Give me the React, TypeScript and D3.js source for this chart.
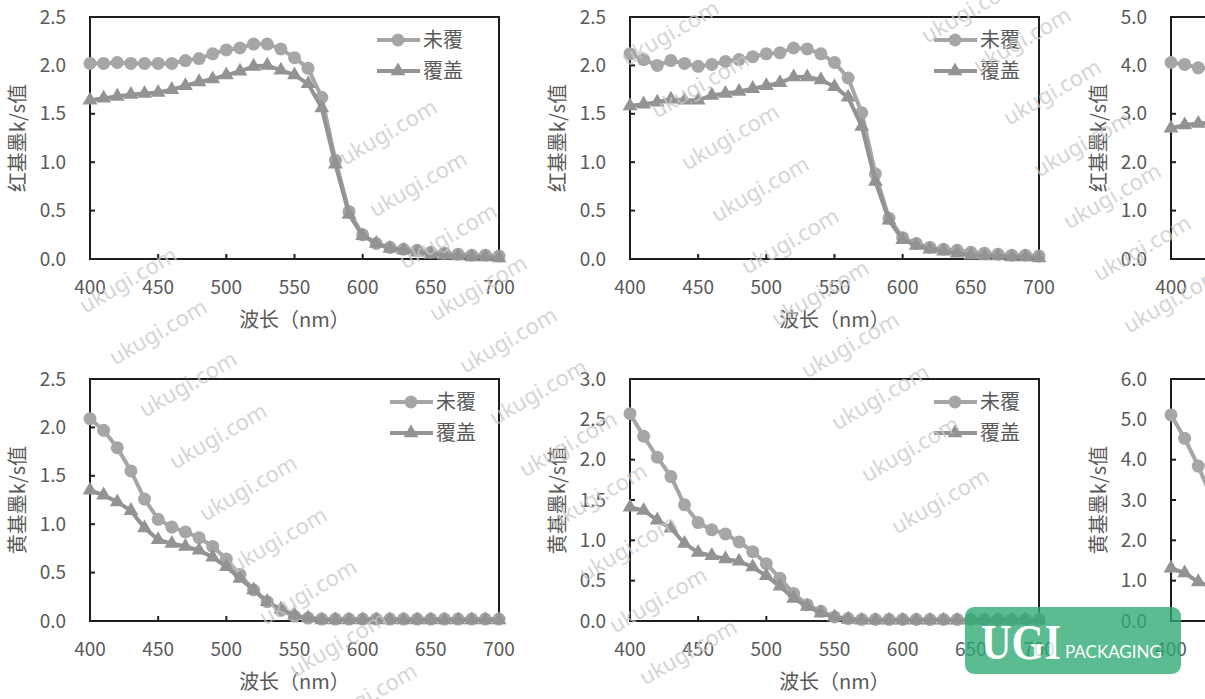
import React from 'react'
import * as d3 from 'd3'

// wavelength categories (nm)
const wavelengths = [400, 410, 420, 430, 440, 450, 460, 470, 480, 490, 500, 510, 520, 530, 540, 550,
  560, 570, 580, 590, 600, 610, 620, 630, 640, 650, 660, 670, 680, 690, 700]
const xTicks = [400, 450, 500, 550, 600, 650, 700]

// red ink, sample A
const redAUncovered = [2.02, 2.02, 2.03, 2.02, 2.02, 2.02, 2.02, 2.05, 2.07, 2.12, 2.16, 2.18, 2.22, 2.22, 2.17, 2.08,
  1.97, 1.67, 1.02, 0.49, 0.25, 0.16, 0.12, 0.10, 0.09, 0.07, 0.06, 0.05, 0.04, 0.04, 0.03]
const redACovered = [1.64, 1.66, 1.68, 1.70, 1.71, 1.72, 1.75, 1.79, 1.83, 1.86, 1.90, 1.94, 1.99, 2.00, 1.95, 1.90,
  1.81, 1.56, 0.98, 0.46, 0.24, 0.16, 0.11, 0.09, 0.07, 0.05, 0.04, 0.03, 0.02, 0.02, 0.01]
// red ink, sample B
const redBUncovered = [2.12, 2.06, 2.00, 2.05, 2.02, 1.99, 2.01, 2.04, 2.06, 2.09, 2.12, 2.13, 2.18, 2.17, 2.12, 2.03,
  1.87, 1.51, 0.88, 0.42, 0.22, 0.16, 0.12, 0.10, 0.09, 0.07, 0.06, 0.05, 0.04, 0.04, 0.03]
const redBCovered = [1.58, 1.60, 1.62, 1.65, 1.64, 1.64, 1.69, 1.71, 1.73, 1.76, 1.79, 1.82, 1.88, 1.88, 1.85, 1.78,
  1.67, 1.37, 0.80, 0.40, 0.20, 0.14, 0.10, 0.08, 0.06, 0.04, 0.03, 0.03, 0.02, 0.02, 0.01]
// red ink, sample C (only the start is inside the picture)
const redCUncovered = [4.06, 4.02, 3.95, 3.93]
const redCCovered = [2.70, 2.77, 2.80, 2.82]

// yellow ink, sample A
const yellowAUncovered = [2.09, 1.97, 1.79, 1.55, 1.26, 1.05, 0.97, 0.92, 0.86, 0.77, 0.64, 0.48, 0.32, 0.20, 0.11, 0.05,
  0.03, 0.02, 0.02, 0.02, 0.02, 0.02, 0.02, 0.02, 0.02, 0.02, 0.02, 0.02, 0.02, 0.02, 0.02]
const yellowACovered = [1.35, 1.30, 1.23, 1.14, 0.96, 0.84, 0.80, 0.77, 0.73, 0.66, 0.56, 0.44, 0.32, 0.20, 0.12, 0.06,
  0.03, 0.01, 0.01, 0.01, 0.01, 0.01, 0.01, 0.01, 0.01, 0.01, 0.01, 0.01, 0.01, 0.01, 0.01]
// yellow ink, sample B
const yellowBUncovered = [2.57, 2.29, 2.03, 1.79, 1.44, 1.22, 1.13, 1.08, 0.98, 0.86, 0.71, 0.53, 0.34, 0.20, 0.12, 0.05,
  0.03, 0.02, 0.02, 0.02, 0.02, 0.02, 0.02, 0.02, 0.02, 0.02, 0.02, 0.02, 0.02, 0.02, 0.02]
const yellowBCovered = [1.41, 1.37, 1.25, 1.15, 0.96, 0.85, 0.81, 0.77, 0.74, 0.67, 0.56, 0.43, 0.28, 0.18, 0.10, 0.05,
  0.02, 0.01, 0.01, 0.01, 0.01, 0.01, 0.01, 0.01, 0.01, 0.01, 0.01, 0.01, 0.01, 0.01, 0.01]
// yellow ink, sample C
const yellowCUncovered = [5.11, 4.53, 3.84, 3.05]
const yellowCCovered = [1.31, 1.19, 0.97, 0.85]

const yTicks25 = [0, 0.5, 1.0, 1.5, 2.0, 2.5]
const yTicks30 = [0, 0.5, 1.0, 1.5, 2.0, 2.5, 3.0]
const yTicks50 = [0, 1, 2, 3, 4, 5]
const yTicks60 = [0, 1, 2, 3, 4, 5, 6]

const seriesNames = ['未覆', '覆盖']
const redTitle = '红基墨k/s值'
const yellowTitle = '黄基墨k/s值'
const xTitle = '波长（nm）'

const W = 1205
const H = 699
const FONT = '"Noto Sans CJK SC", "Noto Sans", sans-serif'
const TEXT = '#595959'
const C_UNCOVERED = '#a6a6a6'
const C_COVERED = '#939393'

const colLeft = [90, 630, 1171]
const rowTop = [17, 379]
const plotW = 409
const plotH = 242

const panels = [
  { col: 0, row: 0, yTicks: yTicks25, title: redTitle, a: redAUncovered, b: redACovered, legendOff: 122 },
  { col: 1, row: 0, yTicks: yTicks25, title: redTitle, a: redBUncovered, b: redBCovered, legendOff: 105 },
  { col: 2, row: 0, yTicks: yTicks50, title: redTitle, a: redCUncovered, b: redCCovered, legendOff: 105 },
  { col: 0, row: 1, yTicks: yTicks25, title: yellowTitle, a: yellowAUncovered, b: yellowACovered, legendOff: 109 },
  { col: 1, row: 1, yTicks: yTicks30, title: yellowTitle, a: yellowBUncovered, b: yellowBCovered, legendOff: 105 },
  { col: 2, row: 1, yTicks: yTicks60, title: yellowTitle, a: yellowCUncovered, b: yellowCCovered, legendOff: 105 },
]

// watermark chains: start point and how many stamps going down-right
const watermarkChains = [
  { x: 128, y: 280, n: 9 },
  { x: 388, y: 132, n: 11 },
  { x: 670, y: 33, n: 10 },
  { x: 970, y: 10, n: 1 },
  { x: 1022, y: 40, n: 6 },
]

const triangle = d3.symbol(d3.symbolTriangle, 95)()

function Panel({ p }) {
  const left = colLeft[p.col]
  const top = rowTop[p.row]
  const yMax = p.yTicks[p.yTicks.length - 1]
  const x = d3.scaleLinear().domain([400, 700]).range([left, left + plotW])
  const y = d3.scaleLinear().domain([0, yMax]).range([top + plotH, top])
  const line = d3.line<number>().x((d, i) => x(wavelengths[i])).y(d => y(d))
  const fmt = d3.format('.1f')
  const bottom = top + plotH
  const lx = left + plotW - p.legendOff
  // the right column runs off the page: only draw what is on it
  const visible = (px: number) => px < W - 10

  return (
    <g>
      <rect x={left} y={top} width={plotW} height={plotH} fill="#fff" stroke="#1e1e1e" strokeWidth={2} />
      {p.yTicks.slice(1, -1).map(t => (
        <line key={'yt' + t} x1={left} x2={left + 5} y1={y(t)} y2={y(t)} stroke="#1e1e1e" strokeWidth={2} />
      ))}
      {xTicks.slice(1, -1).filter(t => visible(x(t))).map(t => (
        <line key={'xt' + t} x1={x(t)} x2={x(t)} y1={bottom} y2={bottom - 5} stroke="#1e1e1e" strokeWidth={2} />
      ))}
      {p.yTicks.map(t => (
        <text key={'yl' + t} x={left - 24} y={y(t)} dy="0.35em" textAnchor="end" fontSize={19} fill={TEXT}>{fmt(t)}</text>
      ))}
      {xTicks.filter(t => visible(x(t))).map(t => (
        <text key={'xl' + t} x={x(t)} y={bottom + 28} dy="0.35em" textAnchor="middle" fontSize={19} fill={TEXT}>{t}</text>
      ))}
      {visible(left + plotW / 2) && (
        <text x={left + plotW / 2} y={bottom + 61} dy="0.35em" textAnchor="middle" fontSize={20} fill={TEXT}>{xTitle}</text>
      )}
      <text transform={`translate(${left - 72},${top + plotH / 2}) rotate(-90)`} dy="0.35em" textAnchor="middle" fontSize={20} fill={TEXT}>{p.title}</text>

      <path d={line(p.a) || ''} fill="none" stroke={C_UNCOVERED} strokeWidth={4} />
      {p.a.map((v, i) => (
        <circle key={'a' + i} cx={x(wavelengths[i])} cy={y(v)} r={6.5} fill={C_UNCOVERED} />
      ))}
      <path d={line(p.b) || ''} fill="none" stroke={C_COVERED} strokeWidth={4} />
      {p.b.map((v, i) => (
        <path key={'b' + i} d={triangle || ''} transform={`translate(${x(wavelengths[i])},${y(v)})`} fill={C_COVERED} />
      ))}

      {visible(lx) && seriesNames.map((name, k) => {
        const ly = top + 23 + k * 31
        const col = k === 0 ? C_UNCOVERED : C_COVERED
        return (
          <g key={name}>
            <line x1={lx} x2={lx + 43} y1={ly} y2={ly} stroke={col} strokeWidth={4} />
            {k === 0
              ? <circle cx={lx + 21} cy={ly} r={6.5} fill={col} />
              : <path d={triangle || ''} transform={`translate(${lx + 21},${ly})`} fill={col} />}
            <text x={lx + 46} y={ly} dy="0.35em" fontSize={20} fill={TEXT}>{name}</text>
          </g>
        )
      })}
    </g>
  )
}

export default function App() {
  const stamps = []
  watermarkChains.forEach((c, ci) => {
    for (let i = 0; i < c.n; i++) stamps.push({ key: ci + '-' + i, x: c.x + i * 30, y: c.y + i * 52 })
  })
  return (
    <svg width={W} height={H} style={{ position: 'absolute', left: 0, top: 0, background: '#fff' }} fontFamily={FONT}>
      <rect width={W} height={H} fill="#fff" />
      {panels.map((p, i) => <Panel key={i} p={p} />)}
      <g>
        {stamps.map(s => (
          <text key={s.key} transform={`translate(${s.x},${s.y}) rotate(-30)`} textAnchor="middle" dy="0.35em"
            fontSize={22} fill="#c8c8c8" opacity={0.75} fontFamily='"Noto Sans", sans-serif'>ukugi.com</text>
        ))}
      </g>
      <g opacity={0.78}>
        <rect x={965} y={607} width={216} height={67} rx={9} fill="rgb(46,170,116)" />
        <text x={981} y={659} fontSize={50} fontWeight="bold" fill="#fff" fontFamily='"Liberation Serif", serif'
          textLength={80} lengthAdjust="spacingAndGlyphs">UGI</text>
        <text x={1065} y={658} fontSize={17} fill="#fff" fontFamily='Lato, "Noto Sans", sans-serif'>PACKAGING</text>
      </g>
    </svg>
  )
}
